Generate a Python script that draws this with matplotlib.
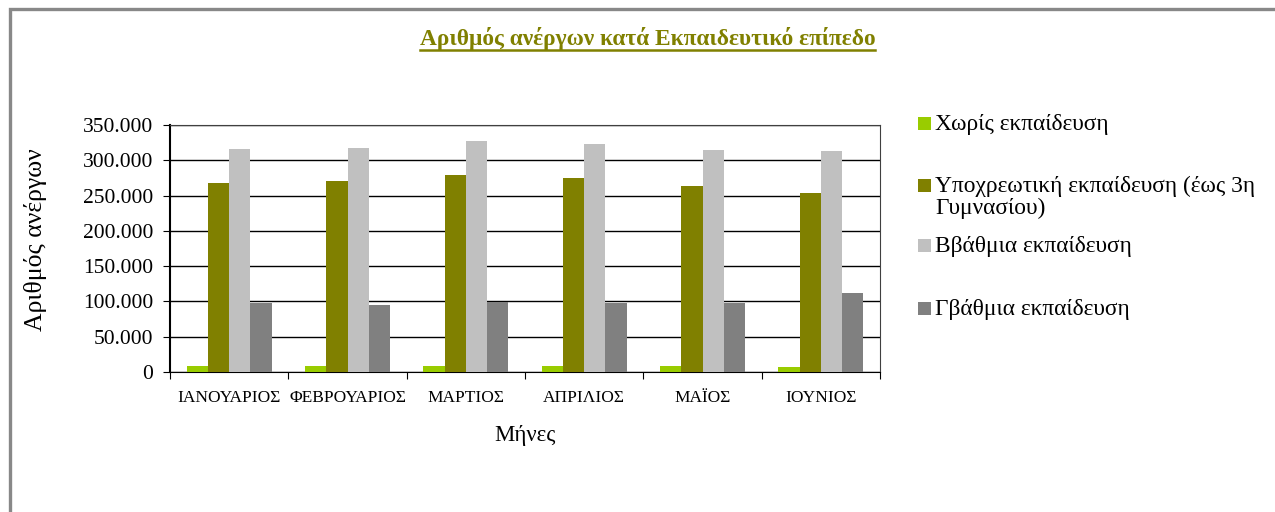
import numpy as np
import matplotlib
matplotlib.use("Agg")
import matplotlib.pyplot as plt
from matplotlib.ticker import FuncFormatter
from matplotlib.patches import Rectangle
from matplotlib.lines import Line2D

plt.rcParams['font.family'] = ['Liberation Serif', 'DejaVu Serif']

months = ['ΙΑΝΟΥΑΡΙΟΣ', 'ΦΕΒΡΟΥΑΡΙΟΣ', 'ΜΑΡΤΙΟΣ', 'ΑΠΡΙΛΙΟΣ', 'ΜΑΪΟΣ', 'ΙΟΥΝΙΟΣ']
no_edu = [9000, 9000, 9000, 9000, 9000, 7600]
compulsory = [267500, 270400, 278900, 274600, 263300, 253300]
secondary = [315800, 317200, 327200, 322900, 314400, 313000]
tertiary = [97100, 95600, 99000, 97100, 97100, 111300]

labels = ['Χωρίς εκπαίδευση', 'Υποχρεωτική εκπαίδευση (έως 3η\nΓυμνασίου)',
          'Ββάθμια εκπαίδευση', 'Γβάθμια εκπαίδευση']
colors = ['#99CC00', '#808000', '#C0C0C0', '#808080']
series = [no_edu, compulsory, secondary, tertiary]

W, H = 1275, 512
fig = plt.figure(figsize=(12.75, 5.12), dpi=100)
# outer chart border
fig.patches.append(Rectangle((9.5 / W, -0.05), 1.2, (H - 9) / H + 0.05,
                             transform=fig.transFigure, fill=False,
                             edgecolor='#888888', linewidth=2.4))

ax = fig.add_axes([170 / W, 1 - 372 / H, 710 / W, 247 / H])
x = np.arange(len(months)) + 0.5
w = 0.18
for i, (vals, col) in enumerate(zip(series, colors)):
    ax.bar(x + (i - 1.5) * w, vals, width=w, color=col, zorder=3)

ax.set_xlim(0, 6)
ax.set_ylim(0, 350000)
ax.set_yticks(np.arange(0, 350001, 50000))
ax.yaxis.set_major_formatter(FuncFormatter(lambda v, p: f'{int(v):,}'.replace(',', '.')))
ax.grid(axis='y', color='black', linewidth=1, zorder=0)
ax.set_xticks(np.arange(0, 7))
ax.set_xticklabels([])
ax.set_xticks(x, minor=True)
ax.set_xticklabels(months, minor=True, fontsize=12.5)
ax.tick_params(axis='x', which='minor', length=0, pad=13)
ax.tick_params(axis='x', which='major', length=5, direction='out')
ax.tick_params(axis='y', labelsize=15.5, length=5, pad=7)
for s in ['top', 'right']:
    ax.spines[s].set_color('#404040')
ax.spines['left'].set_linewidth(1.5)

ax.set_ylabel('Αριθμός ανέργων', fontsize=18.5)
ax.yaxis.set_label_coords(-0.173, 0.534)
ax.set_xlabel('Μήνες', fontsize=16.5, labelpad=14)

# legend drawn by hand to keep the uneven Excel spacing
leg_y = [123, 185, 245, 308]
for lab, col, yy in zip(labels, colors, leg_y):
    fig.patches.append(Rectangle((918 / W, 1 - (yy + 6.5) / H), 13 / W, 13 / H,
                                 transform=fig.transFigure, facecolor=col,
                                 edgecolor='none'))
    fig.text(935 / W, 1 - (yy - 9) / H, lab, ha='left', va='top', fontsize=16.8,
             linespacing=1.05)

t = fig.text(0.5 * (420 + 875) / W, 1 - 38 / H,
             'Αριθμός ανέργων κατά Εκπαιδευτικό επίπεδο', ha='center',
             va='center', fontsize=16.8, fontweight='bold', color='#808000')
fig.canvas.draw()
bb = t.get_window_extent().transformed(fig.transFigure.inverted())
fig.add_artist(Line2D([bb.x0, bb.x1], [1 - 49.5 / H, 1 - 49.5 / H],
                      transform=fig.transFigure, color='#808000', linewidth=1.8))

fig.savefig('out.png', dpi=100)
